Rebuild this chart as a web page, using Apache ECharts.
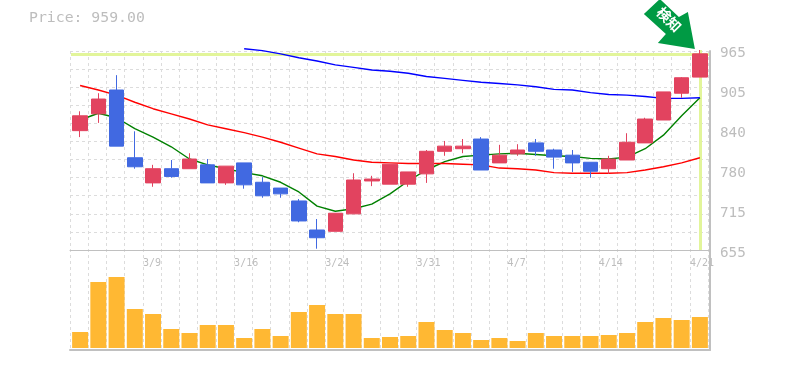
<!DOCTYPE html>
<html><head><meta charset="utf-8">
<style>html,body{margin:0;padding:0;background:#fff}#c{width:785px;height:370px}</style>
<script src="https://cdn.jsdelivr.net/npm/echarts@6/dist/echarts.min.js"></script>
</head><body><div id="c"></div>
<script>
const priceText = 'Price: 959.00';
const currentPrice = 959;
const days = ['c0','c1','c2','c3','c4','c5','c6','c7','c8','c9','c10','c11','c12','c13','c14','c15','c16','c17','c18','c19','c20','c21','c22','c23','c24','c25','c26','c27','c28','c29','c30','c31','c32','c33','c34'];
const dateLabels = ['','','','','3/9','','','','','3/16','','','','','3/24','','','','','3/31','','','','','4/7','','','','','4/14','','','','','4/21',''];
const priceLabels = ['965','905','840','780','715','655'];
// open, close, low, high
const opens  = [840,866,903,798,759,781,781,787,759,790,760,751,731,686,684,711,762,757,757,773,808,812,827,790,804,821,810,802,791,781,794.5,821,856.5,898,923];
const closes = [863,889,816,784,781,769,796,759,785,756,739,742,700,674,712,763.5,765,788,776,808,816,816,779,802,810,808,799,790,777,796,822,858,900,922,959];
const lows   = [830,852,816,781,753,767,781,759,756,750,736,736,698,657,684,711,754,757,753,759,801,805,779,790,801,801,781,776,767,773,794.5,821,856.5,891,923];
const highs  = [870,898,926,839,787,794.5,805,796,785,790,768,751,734,703,712,774,770,788,776,810,824,827,830,818,819,827,812,810,791,801,836,860,900,923,965];
const ma5  = [856.5,867,860,843,830,815,796,787,781,775,770,760,745,723,715,719,726,742,762,779,792,800,802,804,805,803,801,800,797,796,799,812,833,863,891];
const ma25 = [910,903,895,884,874,866,858,849,843,837,830,822,813,804,800,794.5,791,790,789,789,789,788,787,782,781,779,775,774,774,774,775,779,784,790,798];
const ma75 = [null,null,null,null,null,null,null,null,null,967,964,959,953,948,942,938,934,932,929,924,921,918,915,913,911,908,904,903,899,896,895,893,890,890,891];
const volumes = [16,66,71,39,34,19,15,23,23,10,19,12,36,43,34,34,10,11,12,26,18,15,8,10,7,15,12,12,12,13,15,26,30,28,31];
const arrowText = '検知';

const RED='#e2435f', BLUE='#4169e1', GRID='#dcdcdc', FRAME='#c0c0c0', TXT='#bdbdbd', HL='#e2f59a';
const MONO='"DejaVu Sans Mono",monospace';
const candles = opens.map((o,i)=>[o,closes[i],lows[i],highs[i]]);
const off={show:false};
const frameLine=w=>({show:true,onZero:false,lineStyle:{color:FRAME,width:w}});
const line=(name,data,color,extra)=>Object.assign({name,type:'line',data,xAxisIndex:0,yAxisIndex:0,symbol:'none',smooth:false,z:3,clip:false,
  lineStyle:{color,width:1.4},itemStyle:{color},animation:false},extra||{});

const chart=echarts.init(document.getElementById('c'),null,{renderer:'canvas'});
chart.setOption({
 animation:false,
 backgroundColor:'#fff',
 title:{text:priceText,left:24,top:6,textStyle:{fontFamily:MONO,fontSize:14.8,fontWeight:'normal',color:TXT}},
 grid:[
  {left:71,top:50,width:638,height:200},
  {left:71,top:250,width:638,height:98},
  {left:70,top:51,width:638.2,height:299},
  {left:70,top:51,width:640,height:199},
  {left:70,top:250,width:640,height:100},
  {left:70,top:53.7,width:640,height:200}
 ],
 xAxis:[
  {gridIndex:0,type:'category',data:days,axisLine:off,axisTick:off,axisLabel:off,splitLine:off},
  {gridIndex:1,type:'category',data:days,axisLine:off,axisTick:off,axisLabel:off,splitLine:off},
  {gridIndex:2,type:'value',min:0,max:35,interval:1,position:'top',offset:-199,
   axisLine:{show:false,onZero:false},axisTick:off,
   axisLabel:{inside:true,align:'left',margin:8,hideOverlap:false,fontFamily:MONO,fontSize:10,color:TXT,formatter:v=>dateLabels[v]||''},
   splitLine:{show:true,lineStyle:{color:GRID,type:[3,3],width:1}}},
  {gridIndex:3,type:'value',min:0,max:1,axisLine:frameLine(1),axisTick:off,axisLabel:off,splitLine:off},
  {gridIndex:4,type:'value',min:0,max:1,axisLine:frameLine(2),axisTick:off,axisLabel:off,splitLine:off},
  {gridIndex:5,type:'value',min:0,max:1,axisLine:off,axisTick:off,axisLabel:off,splitLine:off}
 ],
 yAxis:[
  {gridIndex:0,type:'value',min:655,max:965,axisLine:off,axisTick:off,axisLabel:off,splitLine:off},
  {gridIndex:1,type:'value',min:0,max:98,axisLine:off,axisTick:off,axisLabel:off,splitLine:off},
  {gridIndex:2,type:'value',min:0,max:1,axisLine:off,axisTick:off,axisLabel:off,splitLine:off},
  {gridIndex:3,type:'value',min:0,max:11,interval:1,axisLine:off,axisTick:off,axisLabel:off,
   splitLine:{show:true,lineStyle:{color:GRID,type:[3,3],width:1}}},
  {gridIndex:3,type:'value',position:'right',min:0,max:1,axisLine:frameLine(2),axisTick:off,axisLabel:off,splitLine:off},
  {gridIndex:4,type:'value',position:'right',min:0,max:1,axisLine:frameLine(2),axisTick:off,axisLabel:off,splitLine:off},
  {gridIndex:5,type:'category',inverse:true,position:'right',data:priceLabels,boundaryGap:false,
   axisLine:{show:false,onZero:false},axisTick:off,splitLine:off,
   axisLabel:{interval:0,margin:10,align:'left',hideOverlap:false,fontFamily:MONO,fontSize:14.3,color:TXT}}
 ],
 series:[
  line('MA5',ma5,'#008000'),
  line('MA25',ma25,'#ff0000',{markLine:{silent:true,z:1,symbol:'none',animation:false,label:{show:false},
    lineStyle:{color:HL,width:3,type:'solid',opacity:1},data:[{yAxis:currentPrice},{xAxis:34}]}}),
  line('MA75',ma75,'#0000ff'),
  {name:'Price',type:'candlestick',xAxisIndex:0,yAxisIndex:0,data:candles,barWidth:15,z:4,clip:false,
   itemStyle:{color:RED,color0:BLUE,borderColor:RED,borderColor0:BLUE,borderWidth:1},
   markPoint:{silent:true,z:6,animation:false,
    data:[{coord:[34,965],symbol:'path://M644 14L660 -1L679 17L688 12L695 49L658 43L666 34Z',symbolSize:[51,50],symbolOffset:[-30.5,-26],
     itemStyle:{color:'#009a44'},
     label:{show:true,position:'inside',offset:[-3.5,-3],rotate:-45,formatter:arrowText,color:'#fff',fontSize:14,fontWeight:'bold',fontFamily:'"Noto Sans CJK JP"'}}]}},
  {name:'Volume',type:'bar',xAxisIndex:1,yAxisIndex:1,data:volumes,barWidth:16,itemStyle:{color:'#ffb833'},z:3}
 ]
});
</script></body></html>
